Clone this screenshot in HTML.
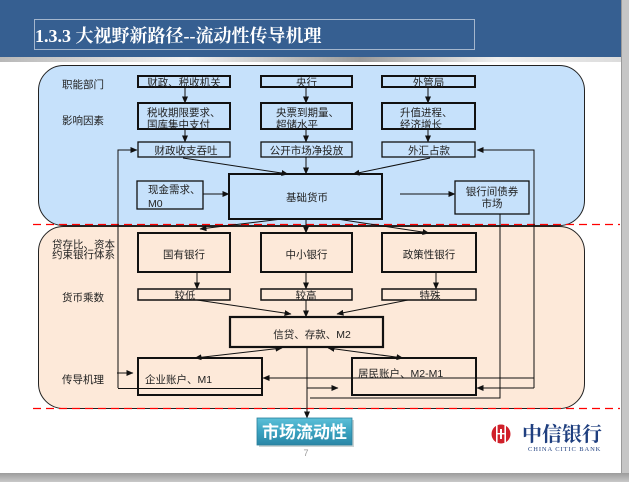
<!DOCTYPE html>
<html><head><meta charset="utf-8">
<style>
html,body{margin:0;padding:0;background:#fff;}
svg{display:block;}
.t{font-family:"Liberation Sans","Noto Sans CJK SC",sans-serif;font-size:10.5px;fill:#222;}
.c{text-anchor:middle;}
</style></head>
<body>
<svg width="629" height="482" viewBox="0 0 629 482" xmlns="http://www.w3.org/2000/svg">
<defs>
<marker id="a" markerWidth="7" markerHeight="6" refX="6.5" refY="3" orient="auto" markerUnits="userSpaceOnUse">
<path d="M0,0 L7,3 L0,6 z" fill="#111"/></marker>
<marker id="s" markerWidth="7" markerHeight="6" refX="0.5" refY="3" orient="auto" markerUnits="userSpaceOnUse">
<path d="M7,0 L0,3 L7,6 z" fill="#111"/></marker>
<linearGradient id="hb" x1="0" y1="0" x2="1" y2="0">
<stop offset="0" stop-color="#b8b8b8"/><stop offset="0.3" stop-color="#f2f2f2"/><stop offset="0.58" stop-color="#9a9a9a"/><stop offset="0.8" stop-color="#efefef"/><stop offset="1" stop-color="#dcdcdc"/></linearGradient>
<linearGradient id="bt" x1="0" y1="0" x2="0" y2="1">
<stop offset="0" stop-color="#9c9c9c"/><stop offset="1" stop-color="#c8c8c8"/></linearGradient>
<linearGradient id="mk" x1="0" y1="0" x2="0" y2="1">
<stop offset="0" stop-color="#5cc0d8"/><stop offset="0.5" stop-color="#3aa2c0"/><stop offset="1" stop-color="#2a86a6"/></linearGradient>
</defs>

<!-- slide frame -->
<rect x="0" y="0" width="629" height="482" fill="#fff"/>
<rect x="0" y="0" width="621" height="57" fill="#365f91"/>
<rect x="0" y="57" width="621" height="5" fill="url(#hb)"/>
<rect x="621" y="0" width="8" height="482" fill="#c6c6c6"/>
<rect x="621" y="0" width="1" height="473" fill="#9a9a9a"/>
<rect x="0" y="473" width="629" height="9" fill="url(#bt)"/>
<rect x="34.5" y="19.5" width="440" height="30" fill="none" stroke="#a4b6cd" stroke-width="1"/>
<text x="35" y="42" font-family="'Liberation Serif','Noto Serif CJK SC',serif" font-weight="bold" font-size="18" fill="#fff">1.3.3 大视野新路径--流动性传导机理</text>

<!-- containers -->
<rect x="38.5" y="65.5" width="546" height="160" rx="25" ry="25" fill="#c6e1fb" stroke="#222" stroke-width="1"/>
<rect x="38.5" y="226.5" width="546" height="182" rx="25" ry="25" fill="#fde9d9" stroke="#222" stroke-width="1"/>
<line x1="33" y1="224.5" x2="620" y2="224.5" stroke="#f00" stroke-width="1.3" stroke-dasharray="8,5"/>
<line x1="33" y1="408.5" x2="620" y2="408.5" stroke="#f00" stroke-width="1.3" stroke-dasharray="8,5"/>

<!-- labels -->
<text class="t" x="62" y="88">职能部门</text>
<text class="t" x="62" y="124">影响因素</text>
<text class="t" x="52" y="248">贷存比、资本</text>
<text class="t" x="52" y="258">约束银行体系</text>
<text class="t" x="62" y="301">货币乘数</text>
<text class="t" x="62" y="383">传导机理</text>

<!-- connectors -->
<g stroke="#111" stroke-width="1" fill="none">
<polyline points="118,388 118,150 137,150" marker-end="url(#a)"/>
<line x1="118" y1="388.5" x2="262" y2="388.5"/>
<polyline points="534,388 534,150 477,150" marker-end="url(#a)"/>
<line x1="534" y1="388" x2="477" y2="388" marker-end="url(#a)"/>
<line x1="534" y1="378" x2="263" y2="378" marker-end="url(#a)"/>
<polyline points="500,214 500,398 310,398"/>
<line x1="307" y1="388" x2="338" y2="388" marker-end="url(#a)"/>

<line x1="185" y1="87" x2="185" y2="103" marker-end="url(#a)"/>
<line x1="185" y1="129" x2="185" y2="142" marker-end="url(#a)"/>
<line x1="306" y1="87" x2="306" y2="103" marker-end="url(#a)"/>
<line x1="306" y1="129" x2="306" y2="142" marker-end="url(#a)"/>
<line x1="306" y1="157" x2="306" y2="174" marker-end="url(#a)"/>
<line x1="428" y1="87" x2="428" y2="103" marker-end="url(#a)"/>
<line x1="428" y1="129" x2="428" y2="142" marker-end="url(#a)"/>
<line x1="183" y1="158" x2="288" y2="174" marker-end="url(#a)"/>
<line x1="430" y1="158" x2="353" y2="174" marker-end="url(#a)"/>
<line x1="203" y1="194" x2="229" y2="194" marker-end="url(#a)"/>
<line x1="400" y1="194" x2="455" y2="194" marker-end="url(#a)"/>

<line x1="282" y1="219" x2="200" y2="229" marker-end="url(#a)"/>
<line x1="306" y1="219" x2="306" y2="233" marker-end="url(#a)"/>
<line x1="337" y1="219" x2="429" y2="233" marker-end="url(#a)"/>
<line x1="197" y1="272" x2="197" y2="289" marker-end="url(#a)"/>
<line x1="306" y1="272" x2="306" y2="289" marker-end="url(#a)"/>
<line x1="436" y1="272" x2="436" y2="289" marker-end="url(#a)"/>
<line x1="197" y1="300" x2="291" y2="314" marker-end="url(#a)"/>
<line x1="306" y1="300" x2="306" y2="317" marker-end="url(#a)"/>
<line x1="408" y1="300" x2="337" y2="314" marker-end="url(#a)"/>
<line x1="282" y1="348" x2="195" y2="358" marker-start="url(#s)" marker-end="url(#a)"/>
<line x1="328" y1="348" x2="403" y2="358" marker-start="url(#s)" marker-end="url(#a)"/>
<line x1="307" y1="348" x2="307" y2="418" marker-end="url(#a)"/>
<line x1="117" y1="373" x2="133" y2="373" marker-end="url(#a)"/>
</g>

<!-- top boxes -->
<g stroke="#111" fill="none">
<rect x="138" y="76" width="92" height="11" stroke-width="2"/>
<rect x="261" y="76" width="91" height="11" stroke-width="2"/>
<rect x="382" y="76" width="93" height="11" stroke-width="2"/>
<rect x="138" y="103" width="92" height="26" stroke-width="2"/>
<rect x="261" y="103" width="91" height="26" stroke-width="2"/>
<rect x="382" y="103" width="93" height="26" stroke-width="2"/>
<rect x="138" y="142" width="92" height="15" stroke-width="1.3"/>
<rect x="261" y="142" width="91" height="15" stroke-width="1.3"/>
<rect x="382" y="142" width="93" height="15" stroke-width="1.3"/>
<rect x="137" y="181" width="66" height="28" stroke-width="1.3"/>
<rect x="229" y="174" width="153" height="45" stroke-width="2"/>
<rect x="455" y="181" width="74" height="33" stroke-width="1.3"/>
</g>
<text class="t c" x="184" y="86">财政、税收机关</text>
<text class="t c" x="306.5" y="86">央行</text>
<text class="t c" x="428.5" y="86">外管局</text>
<text class="t" x="147" y="116">税收期限要求、</text>
<text class="t" x="147" y="128">国库集中支付</text>
<text class="t" x="276" y="116">央票到期量、</text>
<text class="t" x="276" y="128">超储水平</text>
<text class="t" x="400" y="116">升值进程、</text>
<text class="t" x="400" y="128">经济增长</text>
<text class="t c" x="186" y="154">财政收支吞吐</text>
<text class="t c" x="306.5" y="154">公开市场净投放</text>
<text class="t c" x="429" y="154">外汇占款</text>
<text class="t" x="148" y="193">现金需求、</text>
<text class="t" x="148" y="207">M0</text>
<text class="t c" x="307" y="201">基础货币</text>
<text class="t c" x="492" y="195">银行间债券</text>
<text class="t c" x="492" y="207">市场</text>

<!-- middle boxes -->
<g stroke="#111" fill="none">
<rect x="138" y="233" width="92" height="39" stroke-width="2"/>
<rect x="261" y="233" width="91" height="39" stroke-width="2"/>
<rect x="382" y="233" width="94" height="39" stroke-width="2"/>
<rect x="138" y="289" width="92" height="11" stroke-width="1.5"/>
<rect x="261" y="289" width="91" height="11" stroke-width="1.5"/>
<rect x="382" y="289" width="94" height="11" stroke-width="1.5"/>
<rect x="230" y="317" width="153" height="30" stroke-width="2.2"/>
<rect x="138" y="358" width="124" height="37" stroke-width="2"/>
<rect x="352" y="358" width="124" height="37" stroke-width="2"/>
</g>
<text class="t c" x="184" y="258">国有银行</text>
<text class="t c" x="306.5" y="258">中小银行</text>
<text class="t c" x="429" y="258">政策性银行</text>
<text class="t c" x="185" y="299">较低</text>
<text class="t c" x="306" y="299">较高</text>
<text class="t c" x="430" y="299">特殊</text>
<text class="t c" x="312" y="338">信贷、存款、M2</text>
<text class="t" x="145" y="383">企业账户、M1</text>
<text class="t" x="358" y="377">居民账户、M2-M1</text>

<!-- market liquidity -->
<rect x="259" y="420" width="95" height="27" fill="#9aa" opacity="0.5"/>
<rect x="257" y="418" width="95" height="27" fill="url(#mk)" stroke="#2a7f9c" stroke-width="0.8"/>
<text x="304.5" y="438" text-anchor="middle" font-family="'Liberation Sans','Noto Sans CJK SC',sans-serif" font-weight="bold" font-size="17" fill="#fff">市场流动性</text>
<text x="306" y="456" text-anchor="middle" font-family="'Liberation Sans',sans-serif" font-size="9" fill="#999">7</text>

<!-- logo -->
<circle cx="501" cy="434" r="9.5" fill="#d0202a"/>
<rect x="496" y="425" width="1.6" height="18" fill="#fff"/>
<rect x="504.4" y="425" width="1.6" height="18" fill="#fff"/>
<rect x="500" y="429" width="2" height="10" fill="#fff"/>
<rect x="496" y="433" width="10" height="1.4" fill="#fff"/>
<text x="522" y="441" font-family="'Liberation Serif','Noto Serif CJK SC',serif" font-weight="bold" font-size="20" fill="#1f3f7f">中信银行</text>
<text x="528" y="451" font-family="'Liberation Serif',serif" font-size="6.5" fill="#1f3f7f" letter-spacing="0.9">CHINA CITIC BANK</text>
</svg>
</body></html>
